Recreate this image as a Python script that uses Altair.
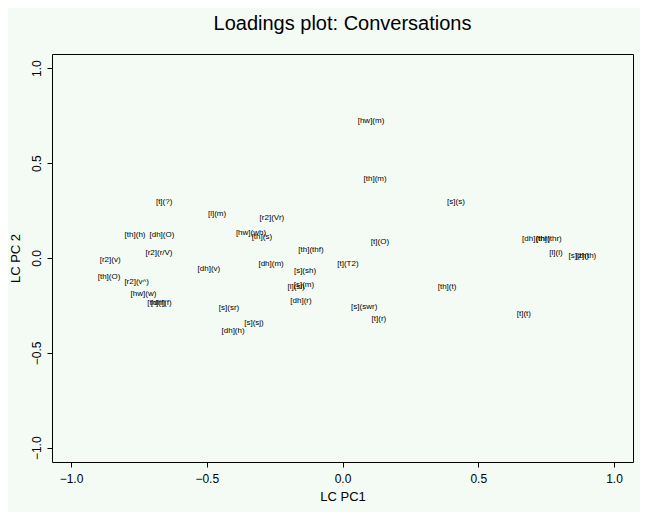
import altair as alt
import pandas as pd

labels = ["[hw](m)", "[th](m)", "[s](s)", "[t](?)", "[l](m)", "[r2](Vr)", "[hw](wh)", "[th](s)",
          "[th](h)", "[dh](O)", "[th](thf)", "[t](O)", "[r2](r/V)", "[r2](v)", "[dh](v)", "[dh](m)",
          "[t](T2)", "[s](sh)", "[th](O)", "[r2](v^)", "[hw](w)", "[th](f)", "[dh](f)", "[l](sl)",
          "[s](m)", "[dh](r)", "[s](sr)", "[s](swr)", "[t](r)", "[s](sj)", "[dh](h)", "[th](t)",
          "[t](t)", "[dh](thr)", "[th](thr)", "[l](l)", "[s](th)", "[z](th)"]
pc1 = [0.105, 0.12, 0.418, -0.657, -0.462, -0.26, -0.337, -0.297,
       -0.764, -0.665, -0.116, 0.138, -0.676, -0.856, -0.492, -0.263,
       0.02, -0.138, -0.86, -0.758, -0.733, -0.685, -0.668, -0.171,
       -0.142, -0.153, -0.418, 0.08, 0.134, -0.326, -0.403, 0.385,
       0.668, 0.713, 0.76, 0.786, 0.87, 0.897]
pc2 = [0.72, 0.415, 0.295, 0.295, 0.232, 0.21, 0.13, 0.11,
       0.12, 0.12, 0.042, 0.084, 0.026, -0.01, -0.058, -0.03,
       -0.03, -0.068, -0.1, -0.126, -0.19, -0.237, -0.237, -0.152,
       -0.142, -0.226, -0.263, -0.258, -0.32, -0.342, -0.384, -0.153,
       -0.295, 0.1, 0.1, 0.026, 0.01, 0.01]

df = pd.DataFrame({"label": labels, "pc1": pc1, "pc2": pc2})

ticks = [-1.0, -0.5, 0.0, 0.5, 1.0]

chart = alt.Chart(df).mark_text(
    font="Liberation Sans", fontSize=8, color="black", align="center", baseline="middle"
).encode(
    x=alt.X("pc1:Q", scale=alt.Scale(domain=[-1.07, 1.07], nice=False, zero=False),
            axis=alt.Axis(title="LC PC1", values=ticks, format=".1f", grid=False, domain=False,
                          tickColor="black", tickSize=5, labelColor="black", labelFontSize=12,
                          labelFont="Liberation Sans", labelPadding=6, titleFont="Liberation Sans",
                          titleFontSize=13, titleFontWeight="normal", titleColor="black",
                          titlePadding=6)),
    y=alt.Y("pc2:Q", scale=alt.Scale(domain=[-1.075, 1.075], nice=False, zero=False),
            axis=alt.Axis(title="LC PC 2", values=ticks, format=".1f", grid=False, domain=False,
                          tickColor="black", tickSize=5, labelColor="black", labelFontSize=12,
                          labelFont="Liberation Sans", labelAngle=270, labelAlign="center",
                          labelBaseline="bottom", labelPadding=4, titleFont="Liberation Sans",
                          titleFontSize=13, titleFontWeight="normal", titleColor="black",
                          titlePadding=8)),
    text="label:N",
).properties(
    width=581,
    height=408,
    background="#F4FBF4",
    padding={"left": 44, "top": 46, "right": 7, "bottom": 50},
    autosize=alt.AutoSizeParams(type="none"),
    title=alt.Title("Loadings plot: Conversations", font="Liberation Sans", fontSize=20,
                    fontWeight="normal", color="black", anchor="middle", offset=20),
).configure_view(
    stroke="black", strokeWidth=1, fill="#F4FBF4"
)

chart.save("out.html", embed_options={"renderer": "svg", "actions": False})
